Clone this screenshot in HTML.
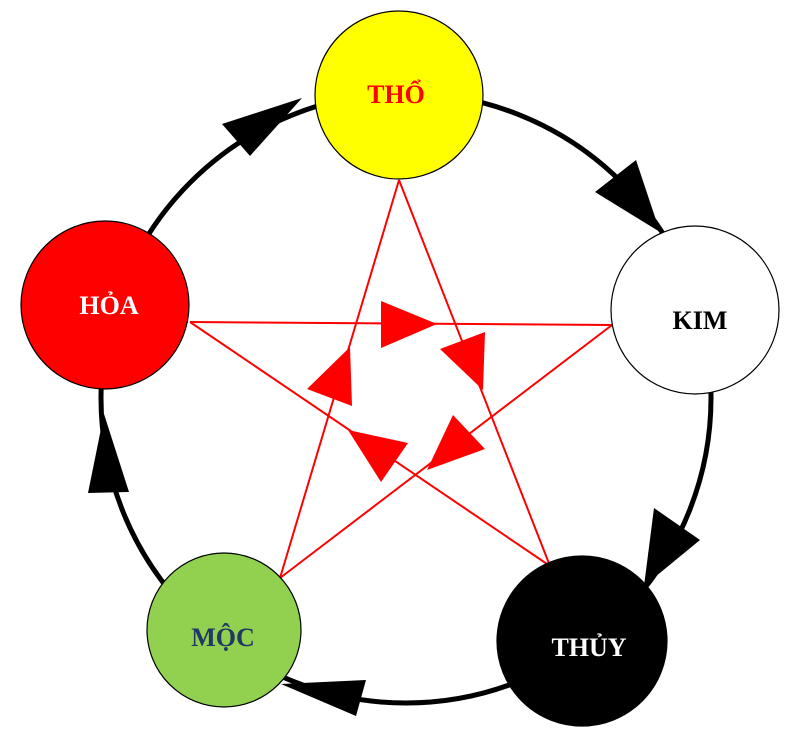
<!DOCTYPE html>
<html><head><style>body{margin:0;background:#fff}</style></head><body>
<svg width="800" height="742" viewBox="0 0 800 742" xmlns="http://www.w3.org/2000/svg">
<circle cx="406" cy="398" r="305" fill="none" stroke="#000" stroke-width="5"/>
<g fill="#000">
<polygon points="302,98 222,124 250,156"/>
<polygon points="660,232 595,192 636,160"/>
<polygon points="644,586 654,508 700,540"/>
<polygon points="281,684 366,680 356,716"/>
<polygon points="104,414 88,493 129,492"/>
</g>
<g stroke="red" stroke-width="2" fill="none">
<line x1="399" y1="180" x2="280" y2="578"/>
<line x1="399" y1="180" x2="550" y2="566"/>
<line x1="190" y1="322" x2="612" y2="325"/>
<line x1="190" y1="322" x2="550" y2="566"/>
<line x1="612" y1="325" x2="280" y2="578"/>
</g>
<g fill="red">
<polygon points="381,301 437,324 381,348"/>
<polygon points="440,349 485,332 483,390"/>
<polygon points="350,347 307,389 352,406"/>
<polygon points="348,430 408,443 381,482"/>
<polygon points="453,415 485,449 427,470"/>
</g>
<g stroke="#000" stroke-width="1.2">
<circle cx="399" cy="95" r="84" fill="#ffff00"/>
<circle cx="105" cy="305" r="84" fill="#ff0000"/>
<circle cx="695" cy="310" r="84" fill="#fff"/>
<circle cx="224" cy="630" r="77" fill="#92d050"/>
<circle cx="582" cy="641" r="85" fill="#000"/>
</g>
<g font-family="Liberation Serif, serif" font-weight="bold" font-size="26" text-anchor="middle">
<text x="396" y="103" fill="red">THỔ</text>
<text x="109" y="314" fill="#fff">HỎA</text>
<text x="700" y="329" fill="#000">KIM</text>
<text x="223" y="646" fill="#1f3864">MỘC</text>
<text x="589" y="656" fill="#fff">THỦY</text>
</g>
</svg>
</body></html>
